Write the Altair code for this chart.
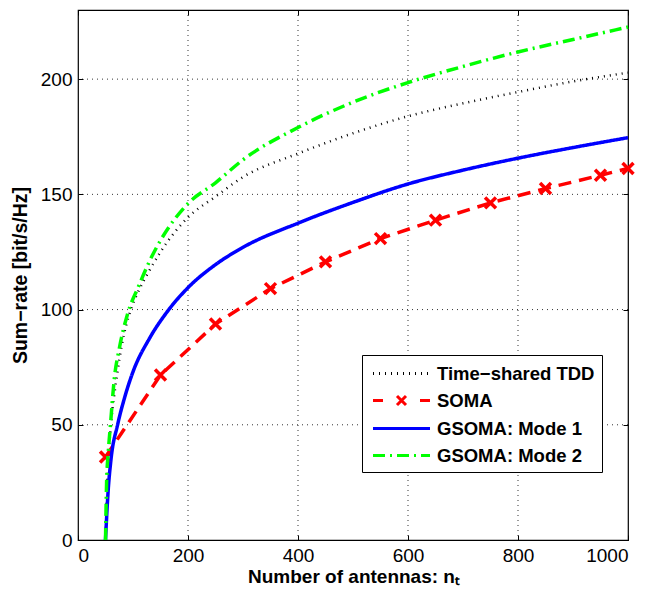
import altair as alt
import pandas as pd

FONT = "Liberation Sans"

series_names = ["Time−shared TDD", "SOMA", "GSOMA: Mode 1", "GSOMA: Mode 2"]

tdd_x = [50, 53, 60, 70, 80, 96, 110, 130, 150, 200, 250, 300, 400, 500, 600, 700, 800, 900, 1000]
tdd_y = [0, 25, 50, 70, 85, 100, 108, 117, 125, 140, 149, 157.5, 167.7, 176.5, 183.9, 189.5, 194.4, 199, 202.8]

soma_x = [50, 150, 250, 350, 450, 550, 650, 750, 850, 950, 1000]
soma_y = [36, 71.6, 93.7, 109.1, 120.7, 130.8, 138.8, 146.3, 152.5, 158.3, 161.2]

mode1_x = [50, 55, 60, 72, 85, 100, 130, 162, 200, 250, 300, 400, 500, 600, 700, 800, 900, 1000]
mode1_y = [0, 22, 35, 50, 62, 73, 87.5, 99, 109.5, 119.5, 127, 137.5, 146.5, 154.5, 160.5, 165.7, 170.3, 174.6]

mode2_x = [50, 52, 55, 59, 66, 75, 90, 110, 130, 150, 200, 250, 300, 400, 500, 600, 700, 800, 900, 1000]
mode2_y = [0, 25, 38, 50, 70, 83, 98, 110, 121, 130, 146, 155, 165, 179, 190, 198.5, 205.5, 211.8, 217.2, 222.6]

x_ticks = [0, 200, 400, 600, 800, 1000]
y_ticks = [0, 50, 100, 150, 200]
x_grid = [200, 400, 600, 800]
y_grid = [50, 100, 150, 200]

rows = []
for name, xs, ys in [(series_names[0], tdd_x, tdd_y), (series_names[1], soma_x, soma_y),
                     (series_names[2], mode1_x, mode1_y), (series_names[3], mode2_x, mode2_y)]:
    for xv, yv in zip(xs, ys):
        rows.append({"n": xv, "rate": yv, "series": name})
df = pd.DataFrame(rows)

colors = ["#000000", "#FF0000", "#0000FF", "#00FF00"]
dashes = [[1, 5], [13, 8], [1, 0], [12, 5, 2, 5]]
full_path = "M-2.85,0H2.85"
soma_path = "M-2.85,0H-1.85M1.85,0H2.85M-0.45,-0.45L0.45,0.45M-0.45,0.45L0.45,-0.45"
shapes = [full_path, soma_path, full_path, full_path]

x_scale = alt.Scale(domain=[0, 1000], nice=False, zero=False)
y_scale = alt.Scale(domain=[0, 230], nice=False, zero=False)
color_scale = alt.Scale(domain=series_names, range=colors)
dash_scale = alt.Scale(domain=series_names, range=dashes)
shape_scale = alt.Scale(domain=series_names, range=shapes)

legend = alt.Legend(
    title=None, orient="none", legendX=284, legendY=345,
    symbolSize=400, symbolStrokeWidth=3, symbolOffset=21, symbolType=full_path,
    labelFont=FONT, labelFontSize=18.5, labelFontWeight="bold", labelColor="black",
    labelOffset=24, padding=7, rowPadding=6,
    strokeColor="black", fillColor="white", cornerRadius=0,
)

x_axis = alt.Axis(
    values=x_ticks, format="d", title="Number of antennas: nₜ", grid=False, domain=False,
    tickSize=5, offset=-5, tickColor="black", tickWidth=1,
    labelFont=FONT, labelFontSize=19, labelColor="black", labelPadding=6,
    titleFont=FONT, titleFontSize=19, titleFontWeight="bold", titleColor="black", titlePadding=2,
)
y_axis = alt.Axis(
    values=y_ticks, format="d", title="Sum−rate [bit/s/Hz]", grid=False, domain=False,
    tickSize=5, offset=-5, tickColor="black", tickWidth=1,
    labelFont=FONT, labelFontSize=19, labelColor="black", labelPadding=6,
    titleFont=FONT, titleFontSize=19.5, titleFontWeight="bold", titleColor="black", titlePadding=10,
)
x_axis_top = alt.Axis(orient="top", values=x_ticks, title=None, labels=False, grid=False, domain=False,
                      tickSize=5, offset=-5, tickColor="black", tickWidth=1)
y_axis_right = alt.Axis(orient="right", values=y_ticks, title=None, labels=False, grid=False, domain=False,
                        tickSize=5, offset=-5, tickColor="black", tickWidth=1)

X = alt.X("n:Q", scale=x_scale, axis=x_axis)
Y = alt.Y("rate:Q", scale=y_scale, axis=y_axis)
C = alt.Color("series:N", scale=color_scale, legend=legend)
D = alt.StrokeDash("series:N", scale=dash_scale, legend=legend)

base = alt.Chart(df)

tdd = base.transform_filter(alt.datum.series == series_names[0]).mark_line(
    strokeWidth=2.5, interpolate="monotone", strokeCap="butt").encode(x=X, y=Y, color=C, strokeDash=D)
soma_line = base.transform_filter(alt.datum.series == series_names[1]).mark_line(
    strokeWidth=3.5).encode(x=X, y=Y, color=C, strokeDash=D)
soma_pts = base.transform_filter(alt.datum.series == series_names[1]).mark_point(
    shape="M-1,-1L1,1M-1,1L1,-1", size=120, strokeWidth=3.5, color="#FF0000", filled=False, opacity=1
).encode(x=X, y=Y)
m1 = base.transform_filter(alt.datum.series == series_names[2]).mark_line(
    strokeWidth=3.5, interpolate="monotone").encode(x=X, y=Y, color=C, strokeDash=D)
m2 = base.transform_filter(alt.datum.series == series_names[3]).mark_line(
    strokeWidth=3.5, interpolate="monotone").encode(x=X, y=Y, color=C, strokeDash=D)
legend_shapes = base.transform_filter("false").mark_point(filled=False, opacity=1).encode(
    x=X, y=Y, color=C, shape=alt.Shape("series:N", scale=shape_scale, legend=legend))

vgrid = alt.Chart(pd.DataFrame({"g": x_grid})).mark_rule(
    color="black", strokeWidth=1, strokeDash=[1, 4], opacity=0.8
).encode(x=alt.X("g:Q", scale=x_scale, axis=x_axis_top))
hgrid = alt.Chart(pd.DataFrame({"g": y_grid})).mark_rule(
    color="black", strokeWidth=1, strokeDash=[1, 4], opacity=0.8
).encode(y=alt.Y("g:Q", scale=y_scale, axis=y_axis_right))

main = alt.layer(tdd, soma_line, soma_pts, m1, m2, legend_shapes)

chart = alt.layer(vgrid, hgrid, main).resolve_axis(x="independent", y="independent").properties(
    width=550, height=530,
    padding={"left": 70, "top": 2, "right": 36, "bottom": 46},
    autosize=alt.AutoSizeParams(type="none"),
    background="white",
).configure_view(stroke="black", strokeWidth=1.2)

chart.save("out.html", embed_options={"renderer": "svg", "actions": False})
